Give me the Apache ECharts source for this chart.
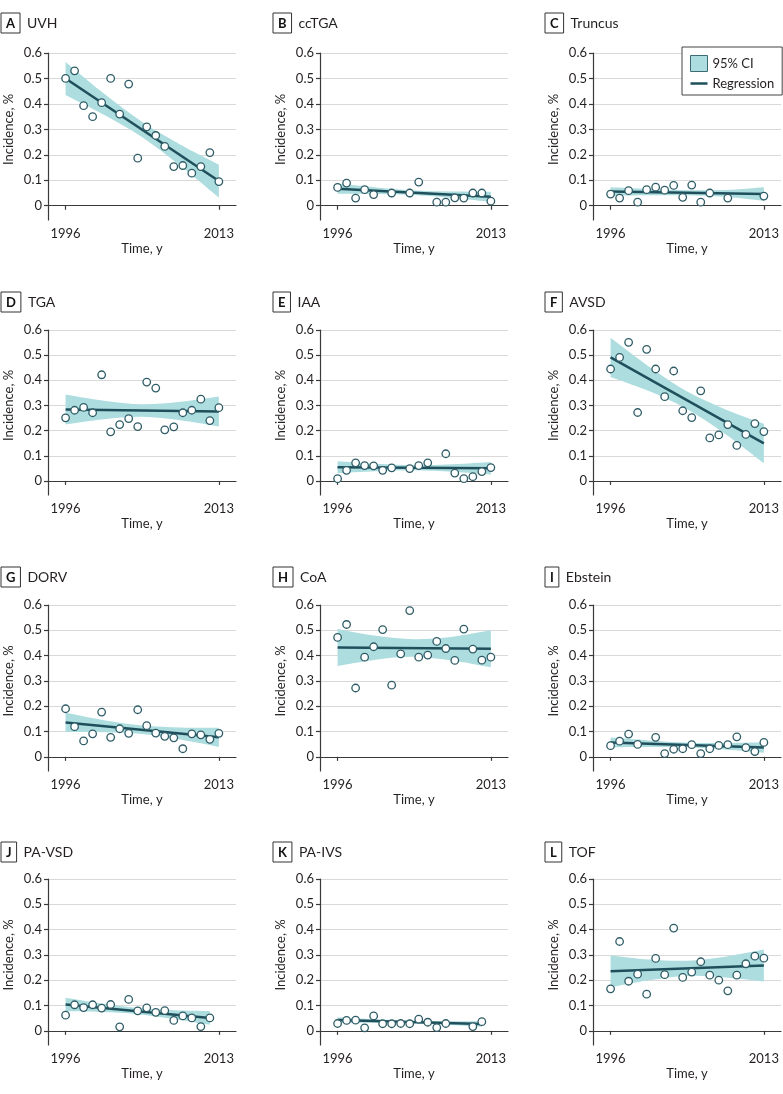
<!DOCTYPE html>
<html>
<head>
<meta charset="utf-8">
<script src="https://cdn.jsdelivr.net/npm/echarts@6/dist/echarts.min.js"></script>
<style>
  html, body { margin: 0; padding: 0; background: #fff; }
  #chart { width: 783px; height: 1094px; }
</style>
</head>
<body>
<div id="chart"></div>
<script>
// panel labels
var panelLetters = ['A', 'B', 'C', 'D', 'E', 'F', 'G', 'H', 'I', 'J', 'K', 'L'];
var panelNames = ['UVH', 'ccTGA', 'Truncus', 'TGA', 'IAA', 'AVSD', 'DORV', 'CoA', 'Ebstein', 'PA-VSD', 'PA-IVS', 'TOF'];

// tick labels
var yTicks = [0, 0.1, 0.2, 0.3, 0.4, 0.5, 0.6];
var xTicks = [1996, 2013];

// years with an observation
var yearsAll = [1996, 1997, 1998, 1999, 2000, 2001, 2002, 2003, 2004, 2005, 2006, 2007, 2008, 2009, 2010, 2011, 2012, 2013];
var yearsTo2012 = [1996, 1997, 1998, 1999, 2000, 2001, 2002, 2003, 2004, 2005, 2006, 2007, 2008, 2009, 2010, 2011, 2012];
var ccTGAYears = [1996, 1997, 1998, 1999, 2000, 2002, 2004, 2005, 2007, 2008, 2009, 2010, 2011, 2012, 2013];
var truncusYears = [1996, 1997, 1998, 1999, 2000, 2001, 2002, 2003, 2004, 2005, 2006, 2007, 2009, 2013];
var iaaYears = [1996, 1997, 1998, 1999, 2000, 2001, 2002, 2004, 2005, 2006, 2008, 2009, 2010, 2011, 2012, 2013];
var ebsteinYears = [1996, 1997, 1998, 1999, 2001, 2002, 2003, 2004, 2005, 2006, 2007, 2008, 2009, 2010, 2011, 2012, 2013];
var paivsYears = [1996, 1997, 1998, 1999, 2000, 2001, 2002, 2003, 2004, 2005, 2006, 2007, 2008, 2011, 2012];

// incidence, %
var uvhRates = [0.50, 0.53, 0.393, 0.35, 0.405, 0.50, 0.36, 0.478, 0.187, 0.31, 0.276, 0.233, 0.154, 0.158, 0.128, 0.154, 0.209, 0.095];
var ccTGARates = [0.072, 0.089, 0.030, 0.063, 0.044, 0.050, 0.050, 0.093, 0.014, 0.014, 0.031, 0.030, 0.050, 0.050, 0.018];
var truncusRates = [0.046, 0.030, 0.059, 0.014, 0.063, 0.073, 0.061, 0.080, 0.033, 0.081, 0.014, 0.050, 0.030, 0.038];
var tgaRates = [0.251, 0.281, 0.292, 0.271, 0.422, 0.195, 0.224, 0.248, 0.216, 0.393, 0.369, 0.203, 0.215, 0.271, 0.281, 0.325, 0.240, 0.291];
var iaaRates = [0.009, 0.042, 0.072, 0.061, 0.060, 0.042, 0.052, 0.049, 0.061, 0.072, 0.108, 0.031, 0.009, 0.017, 0.037, 0.053];
var avsdRates = [0.445, 0.491, 0.551, 0.272, 0.523, 0.445, 0.335, 0.437, 0.279, 0.252, 0.358, 0.171, 0.183, 0.224, 0.141, 0.185, 0.228, 0.196];
var dorvRates = [0.190, 0.119, 0.063, 0.091, 0.177, 0.077, 0.111, 0.093, 0.186, 0.123, 0.094, 0.081, 0.075, 0.032, 0.091, 0.087, 0.069, 0.093];
var coaRates = [0.472, 0.523, 0.272, 0.394, 0.435, 0.503, 0.283, 0.407, 0.578, 0.394, 0.402, 0.456, 0.428, 0.381, 0.505, 0.426, 0.382, 0.394];
var ebsteinRates = [0.044, 0.062, 0.090, 0.049, 0.077, 0.013, 0.030, 0.032, 0.048, 0.013, 0.032, 0.045, 0.048, 0.079, 0.036, 0.021, 0.057];
var pavsdRates = [0.062, 0.103, 0.092, 0.103, 0.090, 0.104, 0.016, 0.124, 0.079, 0.091, 0.073, 0.080, 0.041, 0.059, 0.051, 0.017, 0.051];
var paivsRates = [0.029, 0.041, 0.042, 0.012, 0.059, 0.028, 0.028, 0.029, 0.028, 0.046, 0.034, 0.013, 0.029, 0.017, 0.036];
var tofRates = [0.166, 0.353, 0.196, 0.224, 0.145, 0.286, 0.222, 0.406, 0.211, 0.232, 0.273, 0.220, 0.200, 0.158, 0.220, 0.265, 0.295, 0.287];

// regression line, value at first and last year
var fitYears = [1996, 2013];
var fitYearsTo2012 = [1996, 2012];
var uvhFit = [0.50, 0.097];
var ccTGAFit = [0.067, 0.035];
var truncusFit = [0.056, 0.046];
var tgaFit = [0.284, 0.276];
var iaaFit = [0.054, 0.050];
var avsdFit = [0.491, 0.149];
var dorvFit = [0.136, 0.077];
var coaFit = [0.432, 0.427];
var ebsteinFit = [0.057, 0.037];
var pavsdFit = [0.104, 0.051];
var paivsFit = [0.043, 0.027];
var tofFit = [0.235, 0.258];

// 95% CI, lower and upper edge
var bandYears = [1996, 2000.25, 2004.5, 2008.75, 2013];
var bandYearsTo2012 = [1996, 2000, 2004, 2008, 2012];
var uvhLo = [0.435, 0.357, 0.269, 0.156, 0.032];
var uvhHi = [0.565, 0.441, 0.329, 0.240, 0.162];
var ccTGALo = [0.047, 0.046, 0.042, 0.030, 0.015];
var ccTGAHi = [0.087, 0.072, 0.060, 0.056, 0.055];
var truncusLo = [0.039, 0.041, 0.041, 0.035, 0.019];
var truncusHi = [0.073, 0.066, 0.061, 0.062, 0.073];
var tgaLo = [0.224, 0.245, 0.255, 0.241, 0.216];
var tgaHi = [0.344, 0.319, 0.305, 0.315, 0.336];
var iaaLo = [0.030, 0.038, 0.042, 0.036, 0.025];
var iaaHi = [0.078, 0.068, 0.062, 0.066, 0.075];
var avsdLo = [0.413, 0.357, 0.285, 0.186, 0.071];
var avsdHi = [0.569, 0.455, 0.355, 0.284, 0.227];
var dorvLo = [0.098, 0.097, 0.090, 0.068, 0.039];
var dorvHi = [0.174, 0.145, 0.124, 0.116, 0.115];
var coaLo = [0.359, 0.384, 0.395, 0.381, 0.354];
var coaHi = [0.505, 0.478, 0.465, 0.475, 0.500];
var ebsteinLo = [0.038, 0.039, 0.038, 0.029, 0.016];
var ebsteinHi = [0.076, 0.065, 0.056, 0.055, 0.058];
var pavsdLo = [0.077, 0.074, 0.066, 0.047, 0.024];
var pavsdHi = [0.131, 0.108, 0.090, 0.081, 0.078];
var paivsLo = [0.032, 0.032, 0.030, 0.024, 0.016];
var paivsHi = [0.054, 0.046, 0.040, 0.038, 0.038];
var tofLo = [0.172, 0.200, 0.217, 0.211, 0.195];
var tofHi = [0.298, 0.282, 0.277, 0.293, 0.321];

var panelYears = [yearsAll, ccTGAYears, truncusYears, yearsAll, iaaYears, yearsAll, yearsAll, yearsAll, ebsteinYears, yearsTo2012, paivsYears, yearsAll];
var panelRates = [uvhRates, ccTGARates, truncusRates, tgaRates, iaaRates, avsdRates, dorvRates, coaRates, ebsteinRates, pavsdRates, paivsRates, tofRates];
var panelFitYears = [fitYears, fitYears, fitYears, fitYears, fitYears, fitYears, fitYears, fitYears, fitYears, fitYearsTo2012, fitYearsTo2012, fitYears];
var panelFit = [uvhFit, ccTGAFit, truncusFit, tgaFit, iaaFit, avsdFit, dorvFit, coaFit, ebsteinFit, pavsdFit, paivsFit, tofFit];
var panelBandYears = [bandYears, bandYears, bandYears, bandYears, bandYears, bandYears, bandYears, bandYears, bandYears, bandYearsTo2012, bandYearsTo2012, bandYears];
var panelLo = [uvhLo, ccTGALo, truncusLo, tgaLo, iaaLo, avsdLo, dorvLo, coaLo, ebsteinLo, pavsdLo, paivsLo, tofLo];
var panelHi = [uvhHi, ccTGAHi, truncusHi, tgaHi, iaaHi, avsdHi, dorvHi, coaHi, ebsteinHi, pavsdHi, paivsHi, tofHi];

var chart = echarts.init(document.getElementById('chart'));

var FONT = 'Lato, "Noto Sans", sans-serif';
var TEXT = '#231f20';
var AXIS = '#3a3a3a';
var LINE = '#1f4f5b';
var DOT = '#2e5c66';
var BAND = '#addddf';

var colLeft = [48, 320, 593];
var rowTop = [53, 330, 605, 879];
var rowHeight = [167, 165, 166, 166];
var titleLeft = [1, 273, 545];
var titleTop = [13, 292, 567, 842];

var grids = [], xAxes = [], yAxes = [], series = [], titles = [];

function zip(xs, ys) {
  return xs.map(function (x, k) { return [x, ys[k]]; });
}

// smooth curve through pixel points (catmull-rom as cubic bezier)
function curveTo(pts) {
  var d = '';
  for (var k = 0; k < pts.length - 1; k++) {
    var p0 = pts[Math.max(k - 1, 0)], p1 = pts[k], p2 = pts[k + 1], p3 = pts[Math.min(k + 2, pts.length - 1)];
    var c1 = [p1[0] + (p2[0] - p0[0]) / 6, p1[1] + (p2[1] - p0[1]) / 6];
    var c2 = [p2[0] - (p3[0] - p1[0]) / 6, p2[1] - (p3[1] - p1[1]) / 6];
    d += 'C' + c1[0] + ',' + c1[1] + ',' + c2[0] + ',' + c2[1] + ',' + p2[0] + ',' + p2[1];
  }
  return d;
}

function bandRenderer(bx, lo, hi) {
  return function (params, api) {
    var top = bx.map(function (x, k) { return api.coord([x, hi[k]]); });
    var bot = bx.map(function (x, k) { return api.coord([x, lo[k]]); }).reverse();
    var d = 'M' + top[0][0] + ',' + top[0][1] + curveTo(top) +
            'L' + bot[0][0] + ',' + bot[0][1] + curveTo(bot) + 'Z';
    return { type: 'path', shape: { pathData: d }, style: { fill: BAND }, silent: true };
  };
}

panelNames.forEach(function (name, i) {
  var r = Math.floor(i / 3), c = i % 3;

  grids.push({
    left: colLeft[c], top: rowTop[r], width: 188, height: rowHeight[r],
    outerBoundsMode: 'none'
  });

  titles.push({
    left: titleLeft[c], top: titleTop[r], padding: 0,
    text: '{b|' + panelLetters[i] + '}{n|' + name + '}',
    textStyle: {
      fontWeight: 'normal',
      rich: {
        b: { fontFamily: FONT, fontSize: 13, fontWeight: 'bold', color: '#111',
             borderColor: '#333', borderWidth: 1, padding: [4, 5, 3, 5] },
        n: { fontFamily: FONT, fontSize: 14, fontWeight: 'normal', color: TEXT, padding: [0, 0, 0, 7] }
      }
    }
  });

  xAxes.push({
    type: 'value', gridIndex: i, min: 1994.05, max: 2014.9,
    name: 'Time, y', nameLocation: 'middle', nameGap: 22,
    nameTextStyle: { fontFamily: FONT, fontSize: 13, color: TEXT },
    axisLine: { show: true, lineStyle: { color: AXIS, width: 1.2 } },
    axisTick: { show: true, customValues: xTicks, length: 4, lineStyle: { color: AXIS, width: 1.2 } },
    axisLabel: {
      customValues: xTicks, margin: 7, fontFamily: FONT, fontSize: 13, color: TEXT,
      formatter: function (v) { return String(v); }
    },
    splitLine: { show: false }
  });

  yAxes.push({
    type: 'value', gridIndex: i, min: -0.056, max: 0.6,
    name: 'Incidence, %', nameLocation: 'middle', nameGap: 33, nameMoveOverlap: false,
    nameTextStyle: { fontFamily: FONT, fontSize: 13, color: TEXT, padding: [0, 0, 0, 14] },
    axisLine: { show: true, lineStyle: { color: AXIS, width: 1.2 } },
    axisTick: { show: true, customValues: yTicks, length: 4, lineStyle: { color: AXIS, width: 1.2 } },
    axisLabel: {
      customValues: yTicks, margin: 6, fontFamily: FONT, fontSize: 13, color: TEXT,
      formatter: function (v) { return v === 0 ? '0' : v.toFixed(1); }
    },
    splitLine: { show: true, lineStyle: { color: '#d9d9d9', width: 1.2 } }
  });

  var bx = panelBandYears[i], lo = panelLo[i], hi = panelHi[i];

  series.push({
    type: 'custom', name: '95% CI', coordinateSystem: 'cartesian2d',
    xAxisIndex: i, yAxisIndex: i, z: 1, silent: true,
    data: [[bx[0], lo[0]]],
    itemStyle: { color: BAND },
    renderItem: bandRenderer(bx, lo, hi)
  });
  series.push({
    type: 'line', name: 'Regression', xAxisIndex: i, yAxisIndex: i,
    data: zip(panelFitYears[i], panelFit[i]),
    symbol: 'none', silent: true, z: 3, color: LINE,
    lineStyle: { color: LINE, width: 2.5 }
  });
  series.push({
    type: 'scatter', name: name, xAxisIndex: i, yAxisIndex: i,
    data: zip(panelYears[i], panelRates[i]),
    symbol: 'circle', symbolSize: 7.5, z: 4,
    itemStyle: { color: '#fff', borderColor: DOT, borderWidth: 1.3, opacity: 1 }
  });
});

var option = {
  animation: false,
  backgroundColor: '#fff',
  title: titles,
  legend: {
    left: 682, top: 47, orient: 'vertical',
    padding: [8, 8, 5, 8], itemGap: 5, itemWidth: 17, itemHeight: 16,
    borderColor: '#444', borderWidth: 1, backgroundColor: '#fff',
    selectedMode: false,
    textStyle: { fontFamily: FONT, fontSize: 13, color: TEXT },
    data: [
      { name: '95% CI', icon: 'rect', itemStyle: { color: BAND, borderColor: '#3d6b74', borderWidth: 1 } },
      { name: 'Regression', icon: 'path://M0,0H17V2.5H0Z', itemStyle: { color: LINE } }
    ]
  },
  grid: grids,
  xAxis: xAxes,
  yAxis: yAxes,
  series: series
};

chart.setOption(option);
</script>
</body>
</html>
